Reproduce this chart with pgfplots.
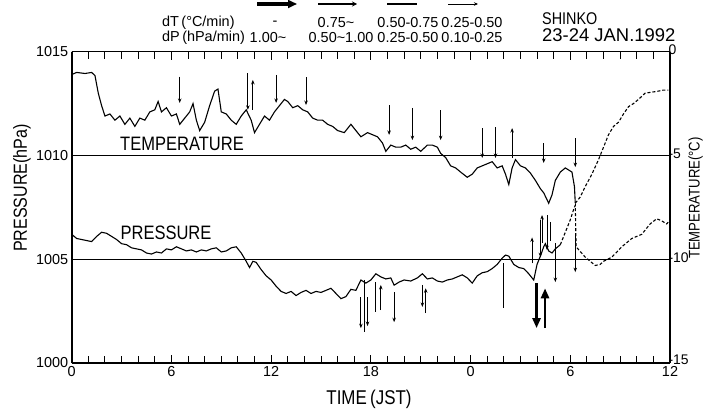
\documentclass[border=0pt]{standalone}
\usepackage{fontspec}
\setmainfont{Liberation Sans}
\newfontfamily\cond[FakeStretch=0.85]{Liberation Sans}
\usepackage{pgfplots}
\pgfplotsset{compat=1.18}
\usetikzlibrary{arrows.meta}

\pgfplotstableread{
t T
0.0 -1.1
0.3 -1.0
0.8 -1.05
1.2 -1.0
1.4 -1.15
1.6 -2.0
1.8 -2.6
2.0 -3.1
2.3 -3.0
2.6 -3.3
2.9 -3.1
3.2 -3.5
3.5 -3.2
3.8 -3.6
4.1 -3.2
4.4 -3.3
4.7 -2.9
5.0 -2.8
5.2 -2.4
5.4 -2.9
5.7 -2.7
6.0 -3.1
6.3 -3.0
6.5 -3.5
6.8 -3.2
7.1 -2.9
7.3 -2.5
7.5 -3.3
7.7 -3.8
8.0 -3.4
8.3 -2.6
8.6 -1.9
8.8 -1.8
9.0 -2.9
9.3 -3.0
9.6 -3.3
9.9 -3.5
10.2 -3.1
10.5 -2.8
10.8 -3.3
11.0 -3.9
11.3 -3.5
11.6 -3.1
11.9 -3.3
12.2 -2.9
12.5 -2.6
12.8 -2.3
13.0 -2.4
13.3 -2.7
13.6 -2.6
13.9 -2.8
14.2 -2.9
14.5 -3.2
14.8 -3.3
15.1 -3.3
15.4 -3.5
15.7 -3.6
16.0 -3.8
16.4 -3.9
16.8 -3.5
17.1 -3.8
17.4 -4.1
17.8 -3.9
18.1 -4.0
18.4 -4.1
18.7 -4.4
18.9 -4.8
19.2 -4.5
19.5 -4.6
19.8 -4.6
20.1 -4.5
20.4 -4.7
20.7 -4.6
21.0 -4.8
21.4 -4.5
21.7 -4.5
22.0 -4.6
22.2 -4.9
22.5 -5.1
22.8 -5.5
23.1 -5.6
23.4 -5.8
23.8 -6.05
24.1 -5.9
24.4 -5.6
24.7 -5.5
25.0 -5.4
25.3 -5.3
25.6 -5.6
25.9 -5.5
26.1 -5.9
26.3 -6.4
26.5 -5.6
26.7 -5.2
27.0 -5.5
27.3 -5.6
27.6 -5.85
27.9 -6.2
28.2 -6.6
28.4 -6.8
28.7 -7.3
28.9 -6.9
29.1 -6.2
29.4 -5.8
29.7 -5.6
29.9 -5.7
30.1 -5.8
30.25 -6.5
30.3 -7.3
}\tempA

\pgfplotstableread{
t T
30.3 -7.3
30.6 -7.0
30.9 -6.5
31.3 -5.9
31.7 -5.2
32.0 -4.6
32.3 -4.0
32.6 -3.6
32.9 -3.4
33.2 -3.0
33.5 -2.65
33.8 -2.5
34.1 -2.3
34.5 -2.0
34.9 -1.95
35.3 -1.9
35.6 -1.85
35.9 -1.85
}\tempB

\pgfplotstableread{
t P
0.0 1006.2
0.3 1006.0
0.6 1005.95
0.9 1005.9
1.2 1005.85
1.5 1006.1
1.8 1006.3
2.1 1006.25
2.4 1006.1
2.7 1005.95
3.0 1005.75
3.3 1005.7
3.6 1005.55
3.9 1005.5
4.2 1005.45
4.5 1005.3
4.8 1005.25
5.1 1005.35
5.4 1005.3
5.7 1005.5
6.0 1005.45
6.3 1005.6
6.6 1005.5
6.9 1005.4
7.2 1005.45
7.5 1005.35
7.8 1005.45
8.1 1005.4
8.4 1005.5
8.7 1005.55
9.0 1005.35
9.3 1005.4
9.6 1005.55
9.9 1005.6
10.2 1005.3
10.5 1004.9
10.7 1004.6
10.9 1004.9
11.1 1004.85
11.4 1004.5
11.7 1004.2
12.0 1004.0
12.3 1003.7
12.6 1003.45
12.9 1003.35
13.2 1003.45
13.5 1003.25
13.8 1003.4
14.1 1003.5
14.4 1003.35
14.7 1003.45
15.0 1003.4
15.3 1003.5
15.6 1003.6
15.9 1003.35
16.2 1003.1
16.5 1003.2
16.8 1003.55
17.1 1003.5
17.4 1004.0
17.7 1003.85
18.0 1004.0
18.3 1004.3
18.6 1004.15
18.9 1004.05
19.2 1004.1
19.4 1003.75
19.7 1003.9
20.0 1004.0
20.4 1003.95
20.8 1004.1
21.1 1004.3
21.4 1004.05
21.7 1004.1
22.0 1003.95
22.3 1003.9
22.6 1004.0
22.9 1004.05
23.2 1004.15
23.5 1004.25
23.8 1004.1
24.1 1003.85
24.4 1004.2
24.7 1004.35
25.0 1004.4
25.3 1004.55
25.6 1004.75
25.9 1005.05
26.1 1005.2
26.3 1005.15
26.6 1004.75
26.9 1004.6
27.2 1004.55
27.5 1004.3
27.8 1004.0
28.0 1004.75
28.2 1005.15
28.4 1005.6
28.5 1005.75
28.7 1005.4
28.9 1005.3
29.1 1005.5
29.4 1005.7
}\presA

\pgfplotstableread{
t P
29.4 1005.7
29.7 1006.3
30.0 1006.9
30.2 1007.4
30.3 1007.6
30.35 1005.6
30.9 1005.1
31.2 1004.9
31.5 1004.7
31.8 1004.75
32.0 1004.9
32.5 1005.1
33.1 1005.6
33.7 1006.0
34.3 1006.2
34.8 1006.7
35.2 1006.95
35.5 1006.85
35.8 1006.7
36.0 1006.9
}\presB

\pgfplotstableread{
t y v
6.5 -1.2 -1.27
10.6 -1.03 -1.77
12.3 -1.12 -1.35
14.1 -1.22 -1.35
19.1 -2.57 -1.44
20.5 -2.71 -1.55
22.2 -2.81 -1.45
24.7 -3.68 -1.44
25.5 -3.63 -1.49
28.4 -4.4 -0.96
30.3 -4.16 -1.4
10.9 -2.8 1.44
26.5 -5.12 1.44
}\tarrows

\pgfplotstableread{
t y v
17.4 1003.18 -1.5
17.8 1003.18 -1.4
19.4 1003.42 -1.45
21.1 1003.76 -1.06
28.2 1006.9 -1.8
28.6 1007.13 -1.69
29.1 1005.78 -1.88
30.3 1006.26 -1.88
18.6 1002.55 1.21
21.3 1002.4 1.2
27.7 1004.8 1.25
28.3 1005.8 1.33
}\parrows

\pgfplotstableread{
t y v
17.6 1004.0 -2.5
18.3 1003.9 -1.45
26.0 1004.8 -2.15
28.8 1006.8 -0.9
}\plines

\pgfplotstableread{
t y v
27.97 1003.85 -2.17
28.48 1001.68 1.92
}\pthick

\begin{document}
\begin{tikzpicture}[x=1bp,y=1bp]
\path[use as bounding box] (0,0) rectangle (703,410);

\begin{axis}[
  at={(71.7bp,47bp)}, anchor=south west,
  width=598.3bp, height=311.3bp, scale only axis,
  xmin=0, xmax=36, ymin=1000, ymax=1015,
  xtick={0,6,12,18,24,30,36},
  xticklabels={0,6,12,18,0,6,12},
  minor xtick={0,1,...,36},
  ytick={1000,1005,1010,1015},
  yticklabels={1000,1005,1010,1015},
  ytick style={draw=none},
  major tick length=8bp, minor tick length=7bp,
  xtick style={line width=0.9bp, black},
  every minor tick/.append style={line width=0.9bp, black},
  tick align=inside,
  separate axis lines,
  x axis line style={line width=1.4bp},
  y axis line style={line width=2bp},
  tick label style={font=\fontsize{14.5}{14.5}\selectfont},
  /pgf/number format/assume math mode=true,
  clip=false,
]
\addplot[black, line width=1.2bp] coordinates {(0,1010) (36,1010)};
\addplot[black, line width=1.2bp] coordinates {(0,1005) (36,1005)};
\addplot[black, line width=1.1bp] table[x=t,y=P] {\presA};
\addplot[black, line width=1.1bp, dash pattern=on 3bp off 2bp] table[x=t,y=P] {\presB};
\addplot[black, line width=0.9bp, -{Stealth[length=4.5bp,width=3.5bp]}, quiver={u=0,v=\thisrow{v}}] table[x=t,y=y] {\parrows};
\addplot[black, line width=1.3bp, quiver={u=0,v=\thisrow{v}}] table[x=t,y=y] {\plines};
\addplot[black, line width=2.8bp, -{Triangle[length=10bp,width=8bp]}, quiver={u=0,v=\thisrow{v}}] table[x=t,y=y] {\pthick};
\end{axis}

\begin{axis}[
  at={(71.7bp,47bp)}, anchor=south west,
  width=598.3bp, height=311.3bp, scale only axis,
  xmin=0, xmax=36, ymin=-15, ymax=0,
  axis x line=none, axis y line*=right,
  ytick={-15,-10,-5,0},
  yticklabels={\raisebox{4bp}{-15},-10,-5,0},
  ytick style={draw=none},
  y axis line style={line width=2bp},
  tick label style={font=\fontsize{14}{14}\selectfont},
  yticklabel style={xshift=-5bp, yshift=1.5bp},
  /pgf/number format/assume math mode=true,
  clip=false,
]
\addplot[black, line width=1.1bp] table[x=t,y=T] {\tempA};
\addplot[black, line width=1.1bp, dash pattern=on 3bp off 2bp] table[x=t,y=T] {\tempB};
\addplot[black, line width=0.9bp, -{Stealth[length=4.5bp,width=3.5bp]}, quiver={u=0,v=\thisrow{v}}] table[x=t,y=y] {\tarrows};
\end{axis}

\node[rotate=90, font=\cond\fontsize{19}{19}\selectfont] at (22,222) {PRESSURE(hPa)};
\node[rotate=90, anchor=base, inner sep=0pt, font=\cond\fontsize{15.5}{15.5}\selectfont] at (699.5,212) {TEMPERATURE(°C)};
\node[font=\cond\fontsize{20}{20}\selectfont] at (369,11) {TIME\,(JST)};
\node[font=\cond\fontsize{19.5}{19.5}\selectfont] at (182,266) {TEMPERATURE};
\node[font=\cond\fontsize{19.5}{19.5}\selectfont] at (166,177) {PRESSURE};

\draw[line width=3.5bp, -{Triangle[length=9bp,width=8bp]}] (257,406) -- (297,406);
\draw[line width=1.6bp, -{Stealth[length=5bp,width=5bp]}] (318,406) -- (357,406);
\draw[line width=1.6bp] (387,406) -- (417,406);
\draw[line width=0.8bp, -{Stealth[length=4bp,width=3.5bp]}] (448,406) -- (478,406);

\begin{scope}[every node/.style={font=\fontsize{14.5}{14.5}\selectfont, inner sep=0pt}]
\node[anchor=west] at (162,387) {dT\,(°C/min)};
\node[anchor=west] at (162,372) {dP\,(hPa/min)};
\node at (275,387) {-};
\node at (268,372) {1.00\textasciitilde};
\node at (336,387) {0.75\textasciitilde};
\node at (341,372) {0.50\textasciitilde1.00};
\node at (408,387) {0.50-0.75};
\node at (408,372) {0.25-0.50};
\node at (472,387) {0.25-0.50};
\node at (472,372) {0.10-0.25};
\end{scope}
\node[anchor=west, inner sep=0pt, font=\cond\fontsize{17}{17}\selectfont] at (542,391) {SHINKO};
\node[anchor=west, inner sep=0pt, font=\fontsize{18.5}{18.5}\selectfont] at (542,375) {23-24 JAN.1992};
\end{tikzpicture}
\end{document}
